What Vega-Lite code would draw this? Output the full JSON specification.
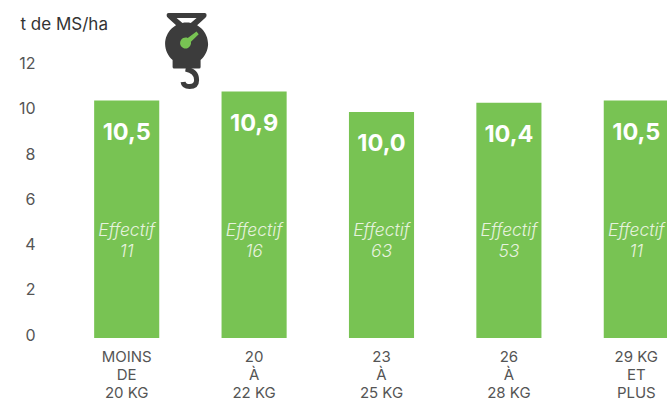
{
"$schema":"https://vega.github.io/schema/vega-lite/v6.json",
"width":604,"height":338,
"autosize":{"type":"none"},
"padding":{"left":63,"top":0,"right":0,"bottom":62},
"background":"white",
"config":{"view":{"stroke":null},"font":"Inter"},
"data":{"values":[
{"classe":"MOINS|DE|20 KG","rendement":10.5,"label":"10,5","effectif":11},
{"classe":"20|À|22 KG","rendement":10.9,"label":"10,9","effectif":16},
{"classe":"23|À|25 KG","rendement":10.0,"label":"10,0","effectif":63},
{"classe":"26|À|28 KG","rendement":10.4,"label":"10,4","effectif":53},
{"classe":"29 KG|ET|PLUS","rendement":10.5,"label":"10,5","effectif":11}
]},
"encoding":{
"x":{"field":"classe","type":"nominal","sort":null,
"scale":{"range":[0,637],"paddingInner":0.489,"paddingOuter":0.2445},
"axis":{"title":null,"domain":false,"ticks":false,"labelAngle":0,"labelAlign":"center","labelBaseline":"top","labelPadding":11,"labelFontSize":15,"labelLineHeight":18,"labelColor":"#555555","labelExpr":"split(datum.label,'|')","labelOverlap":false,"labelBound":false,"labelFlush":false}}
},
"layer":[
{"mark":{"type":"bar","color":"#78C353"},
"encoding":{"y":{"field":"rendement","type":"quantitative",
"scale":{"domain":[0,14.95],"nice":false,"zero":true},
"axis":{"values":[0,2,4,6,8,10,12],"grid":false,"domain":false,"ticks":false,"labelPadding":28,"labelFontSize":16,"labelColor":"#555555","labelOffset":-3,"title":"t de MS/ha","titleAngle":0,"titleAlign":"left","titleBaseline":"middle","titleX":-43,"titleY":24,"titleFontSize":17,"titleFontWeight":"normal","titleColor":"#333333"}}}},
{"mark":{"type":"text","color":"white","fontWeight":"bold","fontSize":23.5,"dy":32},
"encoding":{"y":{"field":"rendement","type":"quantitative"},"text":{"field":"label"}}},
{"mark":{"type":"text","color":"#E6F2DE","fontStyle":"italic","fontSize":17.5,"fontWeight":300},
"encoding":{"y":{"datum":4.73},"text":{"value":"Effectif"}}},
{"mark":{"type":"text","color":"#E6F2DE","fontStyle":"italic","fontSize":17.5,"fontWeight":300},
"encoding":{"y":{"datum":3.8},"text":{"field":"effectif"}}},
{"transform":[{"filter":"datum.effectif==16"}],
"mark":{"type":"point","filled":true,"color":"#3C3C3C","opacity":1,"xOffset":-67.5,
"shape":"M-0.36 -0.74 L0.36 -0.74 Q0.4 -0.74 0.4 -0.7 Q0.4 -0.66 0.37 -0.64 L0.16 -0.45 L-0.16 -0.45 L-0.37 -0.64 Q-0.4 -0.66 -0.4 -0.7 Q-0.4 -0.74 -0.36 -0.74 Z M-0.2 -0.64 L-0.06 -0.52 L0.06 -0.52 L0.2 -0.64 Z M-0.43 -0.12 A0.43 0.43 0 0 1 0.43 -0.12 A0.43 0.43 0 0 1 0.28 0.2 L0.28 0.34 Q0.28 0.37 0.25 0.37 L-0.25 0.37 Q-0.28 0.37 -0.28 0.34 L-0.28 0.2 A0.43 0.43 0 0 1 -0.43 -0.12 Z"},
"encoding":{"y":{"datum":12.74},"size":{"value":10000}}},
{"transform":[{"filter":"datum.effectif==16"}],
"mark":{"type":"point","filled":false,"color":"#3C3C3C","opacity":1,"strokeWidth":5,"xOffset":-67.5,
"shape":"M-0.02 0.38 Q0.2 0.42 0.2 0.6 Q0.2 0.73 0.06 0.73 Q-0.06 0.73 -0.07 0.64"},
"encoding":{"y":{"datum":12.74},"size":{"value":10000}}},
{"transform":[{"filter":"datum.effectif==16"}],
"mark":{"type":"point","filled":true,"color":"#78C353","opacity":1,"xOffset":-67.5,
"shape":"M0.198 -0.367 L0.242 -0.313 L0.087 -0.163 A0.11 0.11 0 1 1 0.023 -0.241 Z"},
"encoding":{"y":{"datum":12.74},"size":{"value":10000}}}
]
}
